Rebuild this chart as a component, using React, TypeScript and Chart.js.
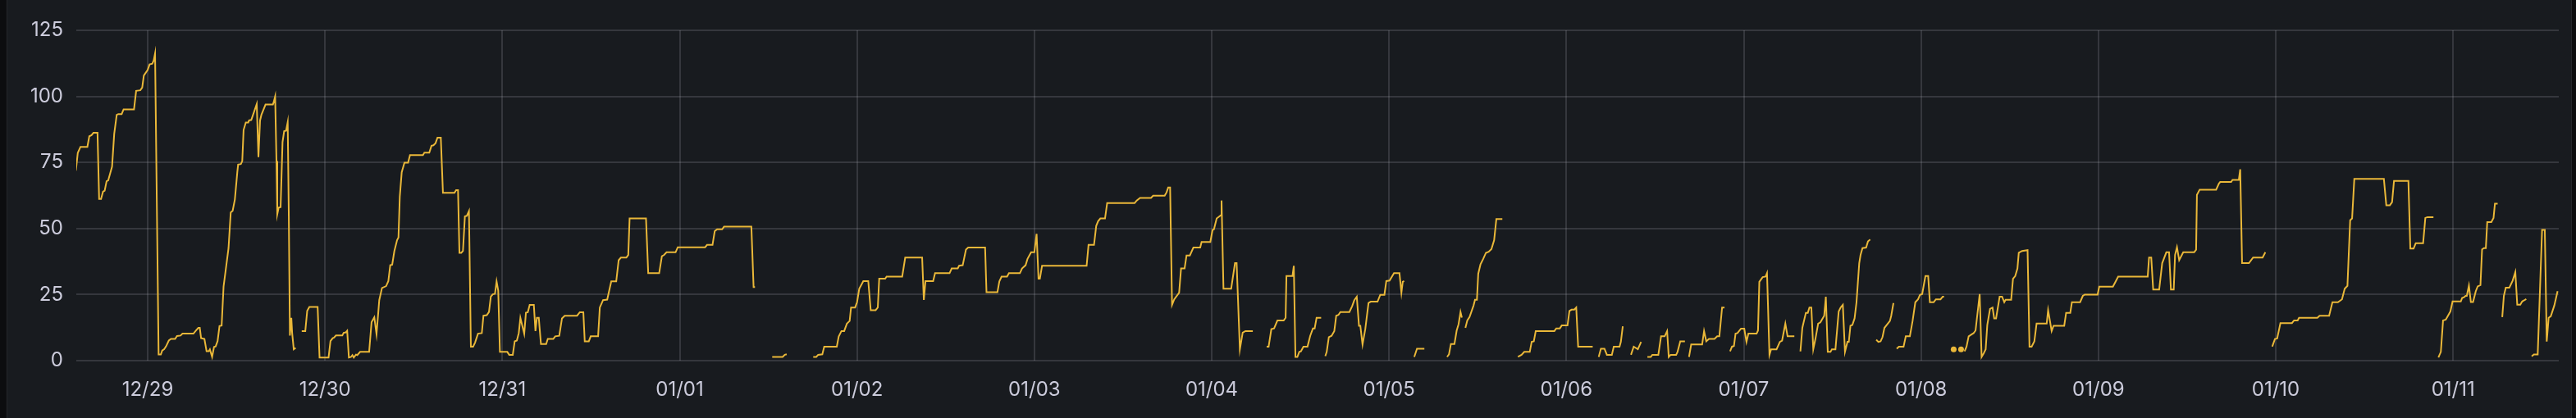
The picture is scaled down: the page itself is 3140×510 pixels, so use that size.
import React, { useEffect, useRef } from "react";
import { Chart, registerables } from "chart.js";

Chart.register(...registerables);

// Time axis: hours since 12/28 00:00
const xMinHours = 14.34;
const xMaxHours = 350.3;
const dayTickHours = [24, 48, 72, 96, 120, 144, 168, 192, 216, 240, 264, 288, 312, 336];
const dayTickLabels = ["12/29", "12/30", "12/31", "01/01", "01/02", "01/03", "01/04", "01/05", "01/06", "01/07", "01/08", "01/09", "01/10", "01/11"];
const yMin = 0;
const yMax = 125;
const yStep = 25;

// Series: [hour, value] pairs; each inner list is one connected run (gaps between runs)
const segments: [number, number][][] = [
  [[14.28,71.9],[14.54,78.6],[14.91,80.9],[15.84,80.9],[16.10,84.9],[16.40,85.3],[16.66,86.2],[17.21,86.2],[17.43,61.2],[17.69,61.2],[17.95,63.9],[18.18,64.3],[18.44,67.9],[18.66,68.2],[19.18,73.4],[19.47,85.8],[19.81,93.0],[20.03,93.3],[20.48,93.3],[20.74,95.1],[22.15,95.1],[22.44,102.1],[23.0,102.3],[23.26,103.3],[23.48,107.9],[24.0,110.0],[24.26,112.1],[24.63,112.4],[24.82,113.6],[25.0,116.2],[25.48,2.3],[25.78,2.3],[25.97,3.8],[26.23,4.3],[26.49,5.4],[26.86,7.6],[27.15,8.2],[27.71,8.2],[27.97,9.3],[28.45,9.5],[28.71,10.2],[30.19,10.2],[30.57,11.5],[30.86,12.4],[31.05,12.4],[31.23,8.5],[31.68,8.2],[31.97,3.6],[32.27,3.6],[32.42,4.3],[32.72,1.4],[32.98,5.2],[33.20,5.4],[33.46,7.4],[33.72,13.1],[34.01,13.3],[34.27,28.0],[34.94,42.5],[35.24,56.1],[35.50,56.7],[35.80,61.0],[36.13,71.3],[36.24,74.2],[36.61,74.4],[36.80,75.5],[36.98,87.3],[37.28,90.1],[37.61,90.1],[37.72,90.9],[38.02,91.1],[38.76,97.1],[38.99,77.0],[39.21,90.9],[39.39,93.0],[39.95,96.9],[40.95,96.9],[41.06,97.9],[41.25,100.0],[41.43,75.5],[41.54,55.4],[41.73,57.9],[41.99,58.1],[42.25,82.7],[42.47,86.8],[42.73,87.0],[42.95,90.2],[43.10,54.8],[43.25,9.5],[43.44,16.2],[43.55,10.5],[43.77,4.3],[44.03,4.8]],
  [[44.85,11.2],[45.33,11.2],[45.59,18.8],[45.88,20.3],[47.0,20.3],[47.26,1.2],[48.48,1.2],[48.74,7.4],[49.04,8.5],[49.22,8.7],[49.48,9.5],[50.34,9.5],[50.52,10.5],[50.82,10.7],[51.0,11.3],[51.23,1.2],[51.52,1.4],[51.71,2.1],[51.89,1.2],[52.19,2.3],[52.37,2.1],[52.75,3.3],[53.97,3.3],[54.30,14.6],[54.67,16.4],[54.97,10.0],[55.34,22.9],[55.71,27.5],[56.27,28.2],[56.57,30.1],[56.83,36.1],[57.09,36.3],[57.38,41.4],[57.75,45.6],[57.94,46.6],[58.12,62.1],[58.38,71.3],[58.75,74.9],[59.24,74.9],[59.50,77.8],[61.25,77.8],[61.45,78.7],[62.11,78.7],[62.41,81.3],[62.67,81.5],[62.96,82.3],[63.22,84.4],[63.67,84.4],[63.96,63.5],[65.52,63.5],[65.74,64.5],[66.0,64.5],[66.19,40.8],[66.44,40.8],[66.67,41.5],[66.93,54.6],[67.19,54.8],[67.48,56.6],[67.74,5.3],[68.04,5.3],[68.30,6.8],[68.70,10.2],[69.22,10.4],[69.44,17.0],[69.89,17.2],[70.19,18.4],[70.44,24.2],[70.70,25.1],[71.0,25.3],[71.22,30.0],[71.44,26.5],[71.67,3.3],[72.67,3.3],[72.93,2.2],[73.41,2.2],[73.67,7.3],[73.96,7.6],[74.22,10.4],[74.44,16.2],[74.96,10.2],[75.19,18.1],[75.44,18.3],[75.70,21.1],[76.26,21.1],[76.48,11.2],[76.67,16.2],[76.93,16.2],[77.22,6.3],[77.93,6.3],[78.15,8.2],[78.89,8.2],[79.15,9.2],[79.70,9.4],[80.07,16.0],[80.44,17.0],[82.11,17.0],[82.48,18.3],[82.96,18.3],[83.15,7.3],[83.70,7.3],[83.96,9.2],[84.96,9.2],[85.19,20.1],[85.63,22.9],[86.19,23.1],[86.74,30.0],[87.41,30.0],[87.74,38.0],[88.04,39.0],[88.78,39.0],[89.04,40.0],[89.22,53.8],[91.44,53.8],[91.74,33.1],[93.22,33.1],[93.59,39.5],[93.89,40.0],[94.22,41.0],[95.44,41.0],[95.74,42.9],[99.44,42.9],[99.70,43.8],[100.44,43.8],[100.74,49.0],[101.07,49.7],[101.74,49.7],[102.0,50.7],[105.70,50.7],[106.0,27.8],[106.19,27.8]],
  [[108.52,1.4],[109.93,1.4],[110.22,2.2],[110.48,2.4]],
  [[114.07,1.4],[114.48,1.4],[114.74,2.2],[115.30,2.4],[115.56,5.3],[117.26,5.3],[117.52,9.1],[117.89,11.2],[118.26,11.2],[118.63,14.0],[119.0,15.0],[119.19,20.1],[119.74,20.1],[120.0,22.1],[120.30,27.2],[120.85,30.1],[121.52,30.1],[121.85,19.1],[122.52,19.1],[122.81,20.1],[123.0,31.0],[123.81,31.0],[124.0,31.8],[126.11,31.8],[126.52,39.0],[128.81,39.0],[129.04,23.0],[129.26,30.1],[130.30,30.1],[130.56,33.1],[132.52,33.1],[132.81,34.9],[133.63,34.9],[133.81,35.9],[134.30,36.1],[134.74,42.0],[135.04,42.8],[137.33,42.8],[137.52,25.9],[139.0,25.9],[139.26,30.0],[139.56,31.8],[140.30,31.8],[140.56,33.1],[142.04,33.1],[142.33,34.9],[142.81,36.1],[143.07,38.5],[143.56,41.0],[144.0,41.0],[144.30,48.0],[144.56,31.0],[144.74,31.0],[145.04,35.9],[151.07,35.9],[151.33,43.8],[152.07,43.8],[152.37,51.0],[152.63,52.8],[152.93,53.8],[153.56,53.8],[153.85,59.6],[157.56,59.6],[157.85,60.6],[158.30,61.6],[159.78,61.6],[160.07,62.4],[161.63,62.4],[161.89,63.7],[162.11,65.5],[162.37,65.5],[162.63,21.1],[162.93,23.2],[163.59,25.7],[163.85,34.9],[164.33,34.9],[164.59,39.8],[165.04,39.8],[165.52,42.8],[166.44,42.8],[166.63,44.9],[167.81,44.9],[168.11,49.4],[168.30,49.7],[168.67,53.8],[169.04,54.6],[169.22,55.0],[169.33,60.6],[169.59,27.2],[170.63,27.2],[171.15,36.9],[171.37,36.9],[171.81,4.3],[172.19,10.6],[172.56,11.2],[173.56,11.2]],
  [[175.44,5.3],[175.70,5.3],[176.07,11.9],[176.44,12.2],[176.89,15.2],[177.74,15.2],[178.0,16.2],[178.11,32.0],[178.93,32.0],[179.11,35.9],[179.33,1.4],[179.59,1.4],[179.85,3.3],[180.07,3.5],[180.41,5.3],[180.96,5.3],[181.33,9.4],[181.70,12.2],[181.93,12.2],[182.19,16.2],[182.81,16.2]],
  [[183.37,1.7],[183.56,3.3],[183.85,8.9],[184.22,9.4],[184.59,11.2],[184.85,17.0],[185.15,17.3],[185.41,18.4],[186.63,18.4],[187.0,20.6],[187.30,22.9],[187.63,24.2],[187.93,13.2],[188.11,13.2],[188.41,6.1],[188.78,11.9],[189.22,21.8],[189.52,22.3],[190.44,22.3],[190.81,24.9],[191.37,24.9],[191.63,30.1],[192.07,30.3],[192.67,33.1],[193.41,33.1],[193.67,25.7],[193.85,29.8],[194.04,30.1]],
  [[195.41,1.4],[195.78,4.5],[196.78,4.5]],
  [[199.85,1.4],[200.11,2.4],[200.37,6.3],[200.85,6.3],[201.15,11.4],[201.41,13.8],[201.67,18.4],[201.85,16.3]],
  [[202.33,12.4],[202.59,15.2],[202.89,16.5],[203.44,20.9],[203.63,23.0],[203.89,23.0],[204.07,32.9],[204.37,36.4],[204.74,38.5],[205.11,40.8],[205.48,41.2],[205.85,42.2],[206.22,45.6],[206.52,53.6],[207.33,53.6]],
  [[209.44,1.4],[209.93,2.2],[210.30,3.3],[211.04,3.3],[211.30,7.1],[211.59,7.3],[211.85,11.2],[214.37,11.2],[214.63,12.2],[215.11,12.2],[215.37,13.3],[216.15,13.3],[216.41,18.8],[216.70,19.3],[217.07,19.3],[217.33,20.1],[217.59,5.3],[219.56,5.3]],
  [[220.37,1.4],[220.67,4.5],[221.15,4.5],[221.48,2.2],[222.15,2.2],[222.41,5.3],[223.19,5.3],[223.37,7.1],[223.63,13.0]],
  [[224.74,2.2],[225.11,5.3],[225.67,4.3],[226.11,7.1]],
  [[226.96,1.4],[227.41,1.4],[227.63,2.2],[228.44,2.2],[228.81,9.2],[229.30,9.2],[229.63,11.2],[229.85,1.4],[230.11,2.2],[230.85,2.2],[231.04,3.3],[231.41,7.3],[232.04,7.3]],
  [[232.59,1.4],[232.89,6.1],[234.37,6.1],[234.63,11.2],[234.93,7.3],[235.30,8.2],[236.04,8.2],[236.41,9.2],[236.70,9.2],[237.07,20.1],[237.40,20.1]],
  [[238.15,3.5],[238.41,5.3],[238.67,5.5],[238.89,10.2],[239.15,10.4],[239.63,12.1],[240.07,12.1],[240.37,7.1],[240.63,10.2],[241.74,10.2],[241.93,11.4],[242.11,29.8],[242.56,31.6],[242.96,31.8],[243.15,33.1],[243.48,2.2],[243.70,4.3],[244.44,4.3],[244.89,7.1],[245.19,7.6],[245.63,14.0],[245.93,9.2],[246.85,9.2]],
  [[247.67,3.5],[247.93,12.4],[248.41,18.1],[248.67,18.1],[248.89,20.1],[249.15,20.1],[249.41,4.3],[249.70,8.2],[250.07,14.0],[250.37,14.5],[250.89,17.0],[251.11,24.2],[251.37,3.3],[251.74,3.3],[251.93,4.3],[252.41,4.3],[252.85,18.6],[253.11,20.1],[253.41,21.1],[253.70,3.3],[254.04,7.1],[254.22,7.1],[254.44,13.2],[254.70,13.5],[255.0,16.0],[255.26,22.1],[255.63,36.9],[255.81,40.0],[256.07,42.6],[256.56,42.8],[256.81,45.1],[257.11,45.8]],
  [[257.93,7.9],[258.22,7.1],[258.52,7.3],[258.78,8.9],[259.04,12.4],[259.78,15.0],[259.96,17.0],[260.26,21.8]],
  [[260.70,4.5],[261.0,5.3],[261.63,5.3],[261.93,9.2],[262.48,9.2],[262.85,15.0],[263.22,22.1],[263.59,23.2],[263.85,24.9],[264.15,25.2],[264.59,32.0],[264.96,32.0],[265.19,22.1],[265.70,22.1],[266.0,23.2],[266.63,23.2],[266.93,24.2],[267.11,24.2]],
  [[268.41,4.3]],
  [[269.41,4.3]],
  [[269.89,3.5],[270.15,5.3],[270.44,9.2],[270.81,9.9],[271.11,10.4],[271.37,11.4],[271.93,25.2],[272.19,1.4],[272.48,2.8],[272.74,4.3],[272.96,13.5],[273.33,19.6],[273.67,20.1],[273.89,16.0],[274.15,16.0],[274.63,24.2],[274.96,24.2],[275.26,22.1],[275.44,23.0],[276.19,23.0],[276.44,31.0],[276.74,32.0],[277.04,34.9],[277.22,40.8],[277.67,41.5],[278.41,41.8],[278.67,5.3],[278.96,5.3],[279.33,7.3],[279.63,14.0],[281.0,14.0],[281.19,19.1],[281.67,11.2],[281.93,13.2],[283.37,13.2],[283.63,18.1],[284.19,18.1],[284.41,22.1],[285.52,22.1],[285.89,24.5],[286.15,25.0],[287.89,25.0],[288.11,28.0],[289.96,28.0],[290.30,29.8],[290.67,31.8],[294.67,31.8],[294.85,39.0],[295.15,39.0],[295.41,26.9],[296.22,26.9],[296.63,36.9],[297.19,41.0],[297.56,41.0],[297.81,26.9],[298.19,26.9],[298.37,40.0],[298.63,42.9],[298.93,38.0],[299.48,41.0],[300.96,41.0],[301.22,42.0],[301.33,62.7],[301.70,64.7],[303.93,64.7],[304.30,67.0],[304.48,67.6],[305.96,67.6],[306.15,68.4],[307.0,68.4],[307.19,72.4],[307.44,36.9],[308.37,36.9],[308.93,39.0],[310.22,39.0],[310.59,41.0]],
  [[311.52,5.3],[311.89,8.2],[312.19,8.4],[312.63,14.2],[314.19,14.2],[314.48,15.2],[314.96,15.2],[315.15,16.2],[317.63,16.2],[317.93,17.0],[319.22,17.0],[319.67,22.1],[320.41,22.1],[320.96,23.2],[321.33,27.2],[321.70,28.3],[322.07,53.1],[322.33,53.8],[322.63,68.8],[326.63,68.8],[326.96,58.8],[327.44,58.8],[327.74,60.0],[328.0,68.0],[329.95,68.0],[330.21,42.4],[330.65,42.4],[330.94,44.4],[331.94,44.4],[332.24,54.0],[332.53,54.3],[333.34,54.3]],
  [[334.01,1.2],[334.34,3.3],[334.64,15.2],[335.01,15.5],[335.63,18.6],[335.93,22.4],[337.04,22.4],[337.22,23.7],[337.48,24.0],[337.70,24.5],[337.85,24.5],[338.14,28.4],[338.40,22.2],[338.70,22.2],[339.07,26.3],[339.33,28.1],[339.70,28.6],[339.92,42.1],[340.18,42.6],[340.43,42.6],[340.62,52.4],[341.17,52.4],[341.47,54.0],[341.66,59.4],[342.03,59.4]],
  [[342.65,16.5],[342.87,24.5],[343.13,27.6],[343.61,27.6],[344.05,30.2],[344.42,33.5],[344.68,21.2],[345.09,21.2],[345.35,22.4],[345.61,22.8],[345.90,23.3]],
  [[346.64,1.6],[346.93,2.3],[347.45,2.3],[348.04,49.5],[348.41,49.5],[348.67,7.2],[348.93,16.2],[349.22,16.8],[349.70,20.9],[350.14,26.3]],
];

const LINE_COLOR = "#EAB839";
const TEXT_COLOR = "#ccccdc";
const GRID_COLOR = "rgba(204,204,220,0.16)";
const FONT = "Inter, 'Noto Sans', sans-serif";

function buildPoints() {
  const pts: { x: number; y: number | null }[] = [];
  segments.forEach((seg, i) => {
    seg.forEach(([x, y]) => pts.push({ x, y }));
    if (i < segments.length - 1) {
      const last = seg[seg.length - 1][0];
      pts.push({ x: last + 0.01, y: null });
    }
  });
  return pts;
}

export default function App() {
  const canvasRef = useRef<HTMLCanvasElement | null>(null);

  useEffect(() => {
    document.body.style.margin = "0";
    document.body.style.background = "#0c0d0f";
    const canvas = canvasRef.current;
    if (!canvas) return;
    const data = buildPoints();
    const chart = new Chart(canvas, {
      type: "line",
      data: {
        datasets: [
          {
            data: data as any,
            borderColor: LINE_COLOR,
            backgroundColor: LINE_COLOR,
            borderWidth: 2,
            tension: 0,
            spanGaps: false,
            fill: false,
            pointBorderWidth: 0,
            pointBackgroundColor: LINE_COLOR,
            pointRadius: (ctx: any) => {
              const d = ctx.dataset.data as any[];
              const i = ctx.dataIndex;
              const cur = d[i];
              if (!cur || cur.y == null) return 0;
              const prev = d[i - 1];
              const next = d[i + 1];
              const isolated = (!prev || prev.y == null) && (!next || next.y == null);
              return isolated ? 3.5 : 0;
            },
            pointHoverRadius: 0,
          },
        ],
      },
      options: {
        animation: false,
        responsive: false,
        devicePixelRatio: 1,
        parsing: false as any,
        normalized: true,
        layout: { padding: { left: 0, right: 21, top: 37, bottom: 0 } },
        plugins: {
          legend: { display: false },
          tooltip: { enabled: false },
        },
        scales: {
          x: {
            type: "linear",
            min: xMinHours,
            max: xMaxHours,
            afterBuildTicks: (scale: any) => {
              scale.ticks = dayTickHours.map((v) => ({ value: v }));
            },
            afterFit: (scale: any) => {
              scale.height = 70;
            },
            grid: { color: GRID_COLOR, lineWidth: 2, drawTicks: false },
            border: { display: false },
            ticks: {
              color: TEXT_COLOR,
              font: { family: FONT, size: 24 },
              padding: 21,
              maxRotation: 0,
              autoSkip: false,
              callback: (value: any) => {
                const idx = dayTickHours.indexOf(Number(value));
                return idx >= 0 ? dayTickLabels[idx] : "";
              },
            },
          },
          y: {
            type: "linear",
            min: yMin,
            max: yMax,
            afterFit: (scale: any) => {
              scale.width = 93;
            },
            grid: { color: GRID_COLOR, lineWidth: 2, drawTicks: false },
            border: { display: false },
            ticks: {
              stepSize: yStep,
              color: TEXT_COLOR,
              font: { family: FONT, size: 24 },
              padding: 16,
            },
          },
        },
      },
    });
    return () => chart.destroy();
  }, []);

  return (
    <div style={{ position: "relative", width: 3140, height: 510, background: "#0c0d0f", overflow: "hidden" }}>
      <div
        style={{
          position: "absolute",
          left: 8,
          top: 0,
          width: 3127,
          height: 510,
          background: "#181b1f",
          borderLeft: "1px solid #25272c",
          borderRight: "1px solid #25272c",
          boxSizing: "border-box",
        }}
      />
      <canvas
        ref={canvasRef}
        width={3140}
        height={510}
        style={{ position: "absolute", left: 0, top: 0, width: 3140, height: 510 }}
      />
    </div>
  );
}
